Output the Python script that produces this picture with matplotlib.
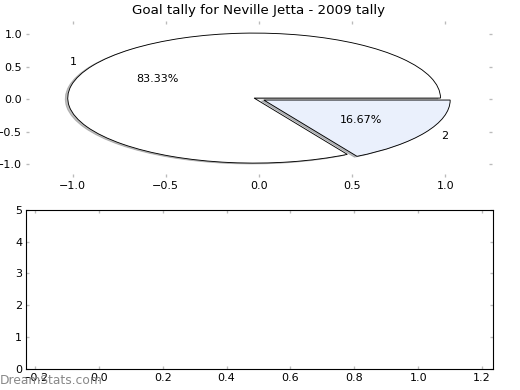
import matplotlib
matplotlib.use("Agg")
import matplotlib.pyplot as plt

# pie data
slice_labels = ["1", "2"]
slice_values = [5, 1]
slice_colors = ["white", "#eaf0fc"]
slice_explode = [0.03, 0.03]

title = "Goal tally for Neville Jetta - 2009 tally"

plt.rcParams["xtick.direction"] = "in"
plt.rcParams["ytick.direction"] = "in"
plt.rcParams["xtick.top"] = True
plt.rcParams["ytick.right"] = True
plt.rcParams["xtick.color"] = "#bbbbbb"
plt.rcParams["ytick.color"] = "#bbbbbb"
plt.rcParams["xtick.labelcolor"] = "black"
plt.rcParams["ytick.labelcolor"] = "black"
plt.rcParams["xtick.major.size"] = 3
plt.rcParams["ytick.major.size"] = 3
plt.rcParams["xtick.major.width"] = 1.2
plt.rcParams["ytick.major.width"] = 1.2
plt.rcParams["font.size"] = 10

fig = plt.figure(figsize=(6.5, 4.875), dpi=80)
ax1 = fig.add_axes([0.05, 0.546, 0.896, 0.400])
ax2 = fig.add_axes([0.05, 0.054, 0.898, 0.408])

ax1.pie(slice_values, labels=slice_labels, colors=slice_colors,
        explode=slice_explode, autopct="%1.2f%%",
        shadow={"ox": -0.012, "oy": -0.012, "shade": 0.5},
        wedgeprops={"edgecolor": "black", "linewidth": 0.8})
ax1.set_aspect("auto")
for s in ax1.spines.values():
    s.set_visible(False)
ax1.set_xlim(-1.25, 1.25)
ax1.set_ylim(-1.2, 1.2)
ax1.set_xticks([-1.0, -0.5, 0.0, 0.5, 1.0])
ax1.set_yticks([-1.0, -0.5, 0.0, 0.5, 1.0])
ax1.tick_params(labelbottom=True, labelleft=True)
ax1.set_title(title, fontsize=12)

ax2.set_xlim(-0.228, 1.234)
ax2.set_ylim(0, 5)
ax2.set_xticks([-0.2, 0.0, 0.2, 0.4, 0.6, 0.8, 1.0, 1.2])
ax2.set_yticks([0, 1, 2, 3, 4, 5])
for s in ax2.spines.values():
    s.set_linewidth(1.0)

fig.text(0.0, 0.008, "DreamStats.com", color="#888888", fontsize=11,
         ha="left", va="bottom")

fig.savefig("out.png", dpi=80)
